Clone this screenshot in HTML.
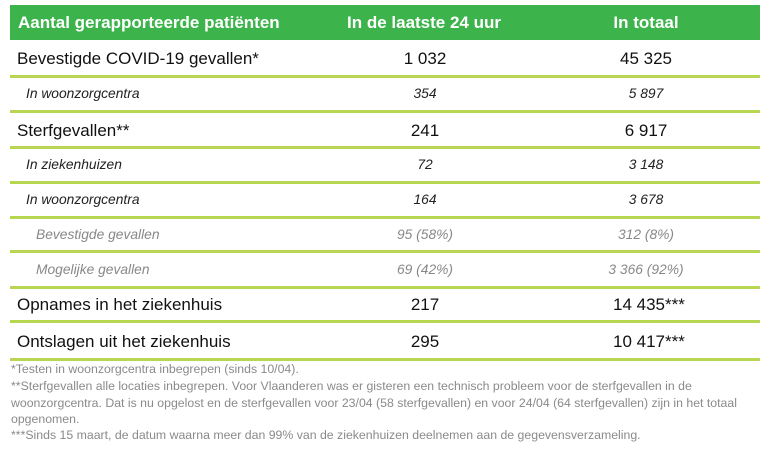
<!DOCTYPE html>
<html><head><style>
body{margin:0;width:768px;height:449px;background:#fff;font-family:"Liberation Sans",sans-serif;position:relative;overflow:hidden}
.h{position:absolute;left:10px;top:5px;width:750px;height:35px;background:#3cb44b}
.t{position:absolute;white-space:nowrap;line-height:1}
.ln{position:absolute;left:10px;width:750px;height:3px;background:#b9d653}
.c1{left:425px;transform:translateX(-50%)}
.c2{left:646px;transform:translateX(-50%)}
.hd{color:#fff;font-weight:bold;font-size:17px;top:14px}
.b{font-size:17px;color:#111}
.i{font-size:13.8px;font-style:italic;color:#222}
.g{font-size:13.8px;font-style:italic;color:#888}
.f{font-size:12.3px;color:#8a8a8a;left:11px}
</style></head><body>
<div class="h"></div>
<div class="t hd" style="left:18px">Aantal gerapporteerde patiënten</div>
<div class="t hd c1" style="left:424px">In de laatste 24 uur</div>
<div class="t hd c2">In totaal</div>

<div class="t b" style="left:17px;top:50px">Bevestigde COVID-19 gevallen*</div>
<div class="t b c1" style="top:50px">1 032</div><div class="t b c2" style="top:50px">45 325</div>
<div class="ln" style="top:75px"></div>

<div class="t i" style="left:26px;top:87px">In woonzorgcentra</div>
<div class="t i c1" style="top:87px">354</div><div class="t i c2" style="top:87px">5 897</div>
<div class="ln" style="top:110px"></div>

<div class="t b" style="left:17px;top:122px">Sterfgevallen**</div>
<div class="t b c1" style="top:122px">241</div><div class="t b c2" style="top:122px">6 917</div>
<div class="ln" style="top:146px"></div>

<div class="t i" style="left:26px;top:158px">In ziekenhuizen</div>
<div class="t i c1" style="top:158px">72</div><div class="t i c2" style="top:158px">3 148</div>
<div class="ln" style="top:181px"></div>

<div class="t i" style="left:26px;top:193px">In woonzorgcentra</div>
<div class="t i c1" style="top:193px">164</div><div class="t i c2" style="top:193px">3 678</div>
<div class="ln" style="top:216px"></div>

<div class="t g" style="left:36px;top:228px">Bevestigde gevallen</div>
<div class="t g c1" style="top:228px">95 (58%)</div><div class="t g c2" style="top:228px">312 (8%)</div>
<div class="ln" style="top:250px"></div>

<div class="t g" style="left:36px;top:263px">Mogelijke gevallen</div>
<div class="t g c1" style="top:263px">69 (42%)</div><div class="t g c2" style="top:263px">3 366 (92%)</div>
<div class="ln" style="top:286px"></div>

<div class="t b" style="left:17px;top:296px">Opnames in het ziekenhuis</div>
<div class="t b c1" style="top:296px">217</div><div class="t b" style="left:613px;top:296px">14 435***</div>
<div class="ln" style="top:320px"></div>

<div class="t b" style="left:17px;top:333px">Ontslagen uit het ziekenhuis</div>
<div class="t b c1" style="top:333px">295</div><div class="t b" style="left:613px;top:333px">10 417***</div>
<div class="ln" style="top:358px"></div>

<div class="t f" style="top:363px">*Testen in woonzorgcentra inbegrepen (sinds 10/04).</div>
<div class="t f" style="top:380px">**Sterfgevallen alle locaties inbegrepen. Voor Vlaanderen was er gisteren een technisch probleem voor de sterfgevallen in de</div>
<div class="t f" style="top:397px">woonzorgcentra. Dat is nu opgelost en de sterfgevallen voor 23/04 (58 sterfgevallen) en voor 24/04 (64 sterfgevallen) zijn in het totaal</div>
<div class="t f" style="top:413px">opgenomen.</div>
<div class="t f" style="top:429px">***Sinds 15 maart, de datum waarna meer dan 99% van de ziekenhuizen deelnemen aan de gegevensverzameling.</div>
</body></html>
